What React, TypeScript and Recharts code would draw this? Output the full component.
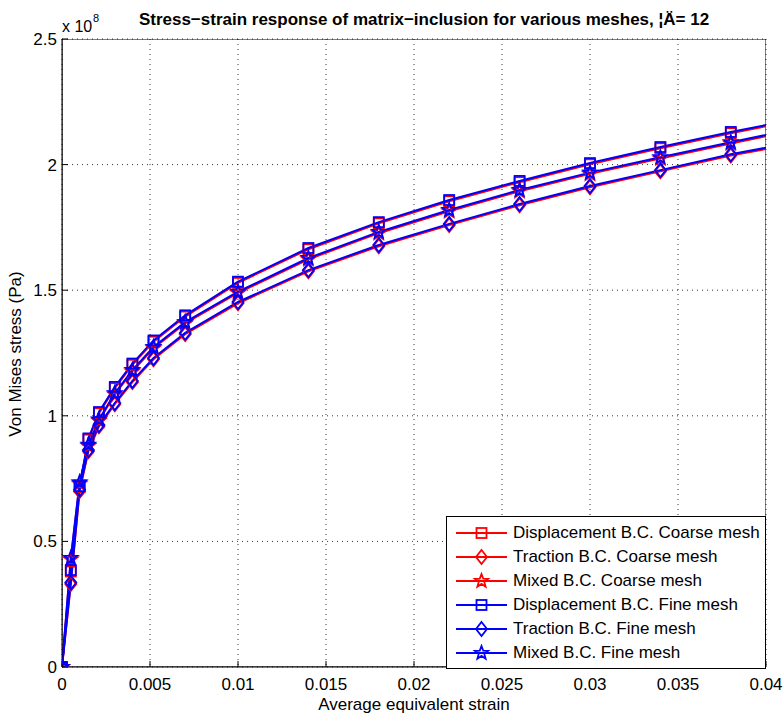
import React from 'react';
import {
  LineChart,
  Line,
  XAxis,
  YAxis,
  CartesianGrid,
  ReferenceArea,
} from 'recharts';

// strain points (last one lies just past the axis limit, line runs off the edge)
const strain = [0, 0.0005, 0.001, 0.0015, 0.0021, 0.003, 0.004, 0.0052, 0.007, 0.01, 0.014, 0.018, 0.022, 0.026, 0.03, 0.034, 0.038, 0.042];

// von Mises stress, in units of 1e8 Pa
const dispCoarse = [0, 0.38, 0.716, 0.905, 1.01, 1.11, 1.203, 1.295, 1.395, 1.529, 1.663, 1.766, 1.854, 1.93, 2.001, 2.065, 2.125, 2.18];
const tracCoarse = [0, 0.33, 0.7, 0.859, 0.958, 1.046, 1.134, 1.225, 1.325, 1.448, 1.575, 1.675, 1.759, 1.838, 1.91, 1.973, 2.036, 2.088];
const mixCoarse = [0, 0.428, 0.73, 0.88, 0.98, 1.085, 1.177, 1.269, 1.368, 1.489, 1.623, 1.727, 1.814, 1.894, 1.963, 2.024, 2.084, 2.142];
const dispFine = [0, 0.386, 0.72, 0.91, 1.015, 1.115, 1.208, 1.3, 1.4, 1.534, 1.668, 1.771, 1.859, 1.935, 2.006, 2.07, 2.13, 2.185];
const tracFine = [0, 0.336, 0.706, 0.864, 0.963, 1.051, 1.139, 1.23, 1.33, 1.453, 1.58, 1.68, 1.764, 1.843, 1.915, 1.978, 2.041, 2.093];
const mixFine = [0, 0.434, 0.735, 0.885, 0.985, 1.09, 1.182, 1.274, 1.373, 1.494, 1.628, 1.732, 1.819, 1.899, 1.968, 2.029, 2.089, 2.147];

const xTicks = [0, 0.005, 0.01, 0.015, 0.02, 0.025, 0.03, 0.035, 0.04];
const yTicks = [0, 0.5, 1, 1.5, 2, 2.5];

const series = [
  { key: 'dispC', values: dispCoarse, name: 'Displacement B.C. Coarse mesh', color: '#ff0000', shape: 'square' },
  { key: 'tracC', values: tracCoarse, name: 'Traction B.C. Coarse mesh', color: '#ff0000', shape: 'diamond' },
  { key: 'mixC', values: mixCoarse, name: 'Mixed B.C. Coarse mesh', color: '#ff0000', shape: 'star' },
  { key: 'dispF', values: dispFine, name: 'Displacement B.C. Fine mesh', color: '#0000ff', shape: 'square' },
  { key: 'tracF', values: tracFine, name: 'Traction B.C. Fine mesh', color: '#0000ff', shape: 'diamond' },
  { key: 'mixF', values: mixFine, name: 'Mixed B.C. Fine mesh', color: '#0000ff', shape: 'star' },
];

const data = strain.map((x, i) => {
  const row: any = { x };
  series.forEach((s) => {
    row[s.key] = s.values[i];
  });
  return row;
});

const FONT = '"Liberation Sans", Arial, Helvetica, sans-serif';

function starPoints(cx: number, cy: number, r: number) {
  const pts: string[] = [];
  for (let i = 0; i < 10; i++) {
    const rr = i % 2 === 0 ? r : r * 0.42;
    const a = -Math.PI / 2 + (i * Math.PI) / 5;
    pts.push(`${cx + rr * Math.cos(a)},${cy + rr * Math.sin(a)}`);
  }
  return pts.join(' ');
}

const Marker = ({ cx, cy, shape, color }: any) => {
  if (cx == null || cy == null) return null;
  if (shape === 'square') {
    return <rect x={cx - 5} y={cy - 5} width={10} height={10} fill="none" stroke={color} strokeWidth={1.8} />;
  }
  if (shape === 'diamond') {
    return (
      <polygon
        points={`${cx},${cy - 7} ${cx + 5.5},${cy} ${cx},${cy + 7} ${cx - 5.5},${cy}`}
        fill="none"
        stroke={color}
        strokeWidth={1.8}
      />
    );
  }
  return <polygon points={starPoints(cx, cy, 7)} fill="none" stroke={color} strokeWidth={1.8} />;
};

const makeDot = (shape: string, color: string) => (props: any) => (
  <Marker key={`${shape}-${color}-${props.index}`} cx={props.cx} cy={props.cy} shape={shape} color={color} />
);

const LegendBox = () => (
  <div
    style={{
      position: 'absolute',
      left: 446,
      top: 516,
      width: 318,
      border: '1px solid #000',
      background: '#fff',
      padding: '4px 0 3px 0',
      fontFamily: FONT,
      fontSize: 17,
      color: '#000',
    }}
  >
    {series.map((s) => (
      <div key={s.key} style={{ display: 'flex', alignItems: 'center', height: 24 }}>
        <svg width={57} height={18} style={{ marginLeft: 9 }}>
          <line x1={0} y1={9} x2={51} y2={9} stroke={s.color} strokeWidth={2} />
          <Marker cx={25.5} cy={9} shape={s.shape} color={s.color} />
        </svg>
        <span style={{ whiteSpace: 'nowrap' }}>{s.name}</span>
      </div>
    ))}
  </div>
);

export default function App() {
  return (
    <div style={{ position: 'absolute', left: 0, top: 0, width: 784, height: 714, background: '#fff' }}>
      <style>{'body{margin:0;}'}</style>
      <LineChart
        width={784}
        height={714}
        data={data}
        margin={{ top: 39, right: 18, left: 0, bottom: 0 }}
        style={{ fontFamily: FONT }}
      >
        <CartesianGrid stroke="#000" strokeDasharray="1 4" strokeWidth={0.8} />
        <XAxis
          dataKey="x"
          type="number"
          domain={[0, 0.04]}
          ticks={xTicks}
          allowDataOverflow
          interval={0}
          height={47}
          stroke="#000"
          tickSize={-6}
          tickMargin={17}
          tick={{ fontSize: 17, fill: '#000' }}
          tickFormatter={(v: number) => String(v)}
        />
        <YAxis
          type="number"
          domain={[0, 2.5]}
          ticks={yTicks}
          allowDataOverflow
          width={62}
          stroke="#000"
          tickSize={-6}
          tickMargin={11}
          tick={{ fontSize: 17, fill: '#000' }}
          tickFormatter={(v: number) => String(v)}
        />
        <ReferenceArea x1={0} x2={0.04} y1={0} y2={2.5} fill="none" stroke="#000" strokeWidth={1} ifOverflow="hidden" />
        {series.map((s) => (
          <Line
            key={s.key}
            dataKey={s.key}
            name={s.name}
            stroke={s.color}
            strokeWidth={2}
            dot={makeDot(s.shape, s.color)}
            activeDot={false}
            isAnimationActive={false}
          />
        ))}
        <text x={62} y={32} fontSize={16} fill="#000" fontFamily={FONT}>
          x 10
        </text>
        <text x={93} y={22} fontSize={11} fill="#000" fontFamily={FONT}>
          8
        </text>
        <text x={424} y={25} fontSize={17} fontWeight="bold" fill="#000" textAnchor="middle" fontFamily={FONT}>
          Stress−strain response of matrix−inclusion for various meshes, ¦Ä= 12
        </text>
        <text x={414} y={710} fontSize={17} fill="#000" textAnchor="middle" fontFamily={FONT}>
          Average equivalent strain
        </text>
        <text
          x={21}
          y={354}
          fontSize={17}
          fill="#000"
          textAnchor="middle"
          fontFamily={FONT}
          transform="rotate(-90 21 354)"
        >
          Von Mises stress (Pa)
        </text>
      </LineChart>
      <LegendBox />
    </div>
  );
}
